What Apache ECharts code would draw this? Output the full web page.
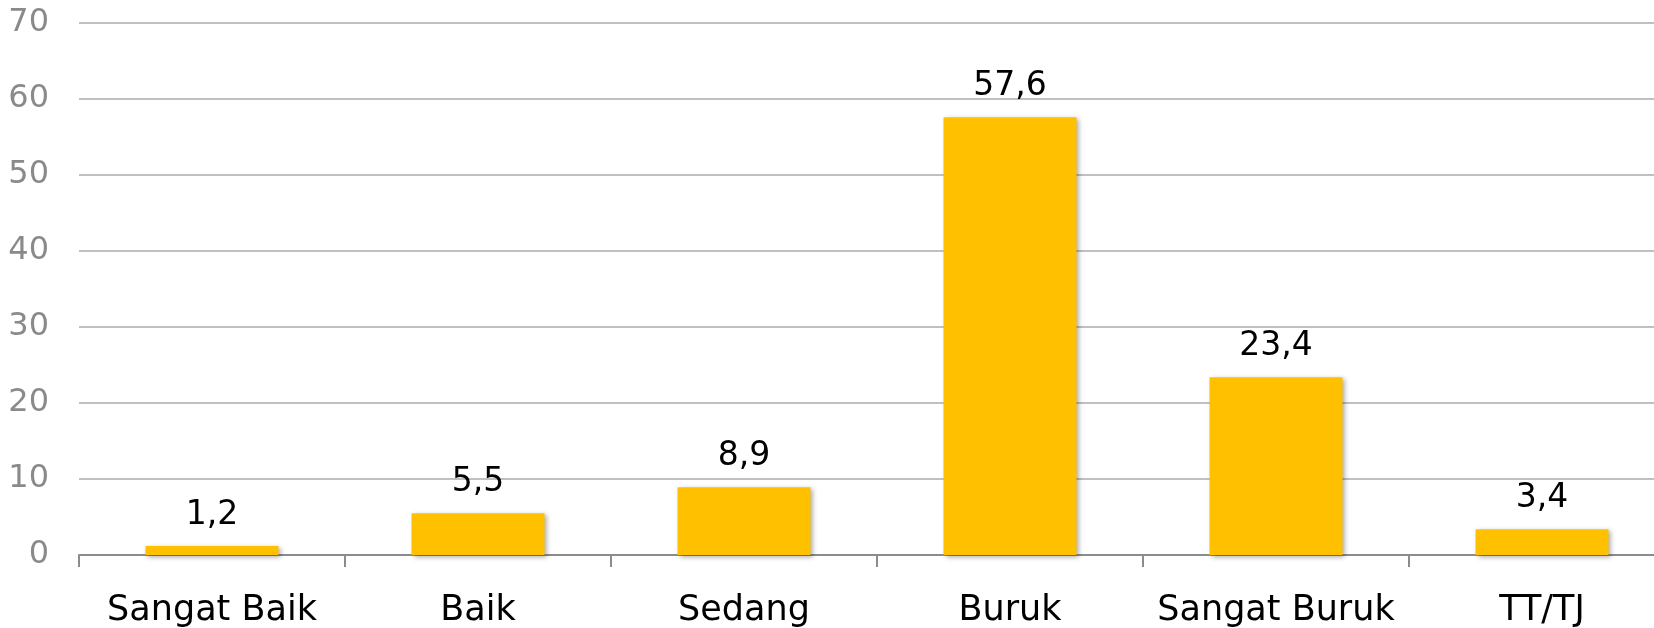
<!DOCTYPE html>
<html>
<head>
<meta charset="utf-8">
<script src="https://cdn.jsdelivr.net/npm/echarts@6/dist/echarts.min.js"></script>
<style>
html,body{margin:0;padding:0;background:#fff;overflow:hidden;width:1654px;height:628px;}
#chart{width:1675px;height:628px;}
</style>
</head>
<body>
<div id="chart"></div>
<script>
const categories = ['Sangat Baik', 'Baik', 'Sedang', 'Buruk', 'Sangat Buruk', 'TT/TJ'];
const values = [1.2, 5.5, 8.9, 57.6, 23.4, 3.4];
const yTicks = {min: 0, max: 70, interval: 10};

const FONT = "'DejaVu Sans', sans-serif";
const chart = echarts.init(document.getElementById('chart'));
chart.setOption({
  animation: false,
  grid: {left: 79, right: 0, top: 23, bottom: 72, containLabel: false},
  xAxis: {
    type: 'category',
    data: categories,
    axisLine: {lineStyle: {color: '#8c8c8c', width: 2}},
    axisTick: {show: true, interval: 0, length: 12, lineStyle: {color: '#8c8c8c', width: 2}},
    axisLabel: {interval: 0, color: '#000', fontSize: 35, fontFamily: FONT, margin: 38}
  },
  yAxis: {
    type: 'value',
    min: yTicks.min, max: yTicks.max, interval: yTicks.interval,
    axisLine: {show: false},
    axisTick: {show: false},
    axisLabel: {color: '#8a8a8a', fontSize: 32, fontFamily: FONT, margin: 30, padding: [8, 0, 0, 0]},
    splitLine: {lineStyle: {color: '#c0c0c0', width: 2}}
  },
  series: [{
    type: 'bar',
    data: values,
    barWidth: '50%',
    itemStyle: {
      color: '#FFC000',
      shadowColor: 'rgba(0,0,0,0.35)',
      shadowBlur: 5,
      shadowOffsetX: 2,
      shadowOffsetY: 2
    },
    label: {
      show: true,
      position: 'top',
      distance: 14,
      color: '#000',
      fontSize: 33,
      fontFamily: FONT,
      formatter: p => String(p.value).replace('.', ',')
    }
  }]
});
</script>
</body>
</html>
